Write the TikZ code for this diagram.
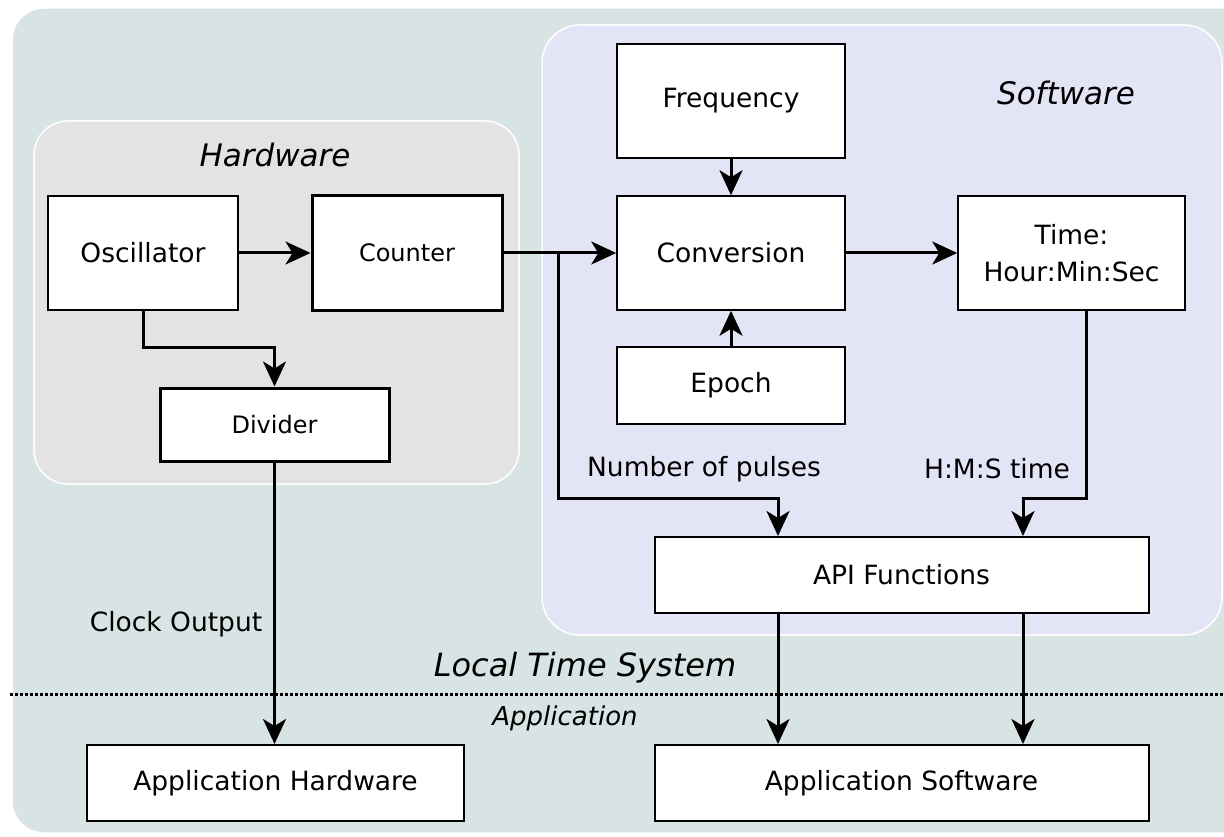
\documentclass[tikz,border=0pt]{standalone}
\usepackage{fontspec}
\setmainfont{DejaVu Sans}
\usetikzlibrary{arrows.meta,calc}
\definecolor{outerbg}{RGB}{215,228,227}
\definecolor{hwbg}{RGB}{227,227,227}
\definecolor{swbg}{RGB}{228,228,247}
\begin{document}
\begin{tikzpicture}[x=1pt,y=-1pt,
  blk/.style={draw=black, fill=white, rectangle, inner sep=0pt, align=center,
    font=\fontsize{26.5}{37}\selectfont, line width=1.5pt},
  thickblk/.style={blk, line width=3pt, font=\fontsize{24}{28}\selectfont},
  midblk/.style={blk, line width=2pt},
  arr/.style={line width=3pt, -{Stealth[length=25pt,width=23pt,inset=7pt]}},
  lbl/.style={inner sep=0pt, font=\fontsize{26.5}{30}\selectfont},
  region/.style={font=\fontsize{31}{35}\selectfont\itshape, inner sep=0pt}]
\useasboundingbox (0,0) rectangle (1224,837);
\clip (0,0) rectangle (1224,837);

% background areas
\filldraw[fill=outerbg, draw=white, line width=1.5pt, rounded corners=32pt]
  (12,8) rectangle (1270,833);
\filldraw[fill=hwbg, draw=white, line width=1.5pt, rounded corners=34pt]
  (34,121) rectangle (519,484);
\filldraw[fill=swbg, draw=white, line width=1.5pt, rounded corners=38pt]
  (542,25) rectangle (1222,635);

% area titles
\node[region] (hwtitle) at (275,155) {Hardware};
\node[region] (swtitle) at (1066,93) {Software};
\node[region, font=\fontsize{32}{36}\selectfont\itshape] (lts) at (585,668) {Local Time System};
\node[region, font=\fontsize{26}{30}\selectfont\itshape] (apptitle) at (565,718) {Application};

% boundary between system and application
\draw[line width=3pt, dash pattern=on 2.5pt off 2.5pt] (10,694) -- (1224,694);

% blocks
\node[blk, minimum width=190pt, minimum height=114pt] (osc) at (143,253) {Oscillator};
\node[thickblk, minimum width=190pt, minimum height=114pt] (cnt) at (407,253) {Counter};
\node[thickblk, minimum width=229pt, minimum height=73pt] (div) at (274.5,424.5) {Divider};
\node[midblk, minimum width=228pt, minimum height=114pt] (freq) at (731,101) {Frequency};
\node[blk, minimum width=228pt, minimum height=114pt] (conv) at (731,253) {Conversion};
\node[blk, minimum width=228pt, minimum height=77pt] (epoch) at (731,385.5) {Epoch};
\node[blk, minimum width=227pt, minimum height=114pt] (time) at (1071.5,253) {Time:\\Hour:Min:Sec};
\node[midblk, minimum width=494pt, minimum height=76pt] (api) at (901.5,575) {API Functions};
\node[midblk, minimum width=377pt, minimum height=76pt] (apphw) at (275.5,783) {Application Hardware};
\node[midblk, minimum width=494pt, minimum height=76pt] (appsw) at (901.5,783) {Application Software};

% connector labels
\node[lbl] (npl) at (704,469) {Number of pulses};
\node[lbl] (hms) at (997,469) {H:M:S time};
\node[lbl] (clk) at (176,624) {Clock Output};

% routing columns and junctions
\coordinate (colA) at (778,0);
\coordinate (colB) at (1023,0);
\coordinate (colT) at (1086,0);
\coordinate (br) at (558,253);

% hardware
\draw[arr] (osc) -- (cnt);
\draw[arr] (osc.south) -- ++(0,37) -| (div.north);
\draw[arr] (div.south) -- (div.south |- apphw.north);

% software
\draw[arr] (cnt) -- (conv);
\draw[arr] (freq) -- (conv);
\draw[arr] (epoch) -- (conv);
\draw[arr] (conv) -- (time);
\draw[arr] (br) -- ++(0,245) -| (api.north -| colA);
\draw[arr] (time.south -| colT) -- ++(0,188) -| (api.north -| colB);

% outputs to application
\draw[arr] (api.south -| colA) -- (appsw.north -| colA);
\draw[arr] (api.south -| colB) -- (appsw.north -| colB);
\end{tikzpicture}
\end{document}
